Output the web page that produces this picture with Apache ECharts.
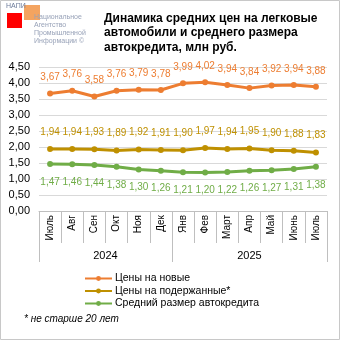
<!DOCTYPE html>
<html><head><meta charset="utf-8">
<script src="https://cdn.jsdelivr.net/npm/echarts@6/dist/echarts.min.js"></script>
<style>html,body{margin:0;padding:0;background:#fff}#c{width:340px;height:340px}</style>
</head><body><div id="c"></div>
<script>
var months = ['Июль','Авг','Сен','Окт','Ноя','Дек','Янв','Фев','Март','Апр','Май','Июнь','Июль'];
var years = ['2024','2025'];
var yearSpans = [6, 7];
var newCars = [3.67,3.76,3.58,3.76,3.79,3.78,3.99,4.02,3.94,3.84,3.92,3.94,3.88];
var usedCars = [1.94,1.94,1.93,1.89,1.92,1.91,1.90,1.97,1.94,1.95,1.90,1.88,1.83];
var credit = [1.47,1.46,1.44,1.38,1.30,1.26,1.21,1.20,1.22,1.26,1.27,1.31,1.38];
var seriesNames = ['Цены на новые','Цены на подержанные*','Средний размер автокредита'];
var titleText = 'Динамика средних цен на легковые\nавтомобили и среднего размера\nавтокредита, млн руб.';
var footnote = '* не старше 20 лет';

var yearBounds = [0]; yearSpans.forEach(function(s,i){yearBounds.push(yearBounds[i]+s);});
var yearCenters = yearSpans.map(function(s,i){return yearBounds[i]+s/2;});
function fmt(v){return v.toFixed(2).replace('.',',');}
var FONT = 'Liberation Sans, Arial, sans-serif';
var gray = '#bfbfbf';
function mk(name, data, color, pos, dist){
  return {name:name, type:'line', data:data, xAxisIndex:0,
    lineStyle:{color:color, width:3}, itemStyle:{color:color},
    symbol:'circle', symbolSize:6, showSymbol:true,
    label:{show:true, position:pos, distance:dist, color:color, fontSize:10, fontFamily:FONT,
      formatter:function(p){return fmt(p.value);}}};
}
var chart = echarts.init(document.getElementById('c'), null, {renderer:'canvas'});
chart.setOption({
  animation:false,
  textStyle:{fontFamily:FONT},
  title:[
    {text:titleText, left:104, top:11, padding:0, textStyle:{fontSize:12, fontWeight:'bold', color:'#000', lineHeight:14.5, fontFamily:FONT}},
    {text:footnote, left:24, top:314, padding:0, textStyle:{fontSize:10, fontStyle:'italic', fontWeight:'normal', color:'#000', fontFamily:FONT}}
  ],
  grid:{left:39, right:13, top:67, bottom:129, containLabel:false},
  legend:{orient:'vertical', left:84, top:273, padding:0, itemWidth:27, itemHeight:6, itemGap:1.5,
    textStyle:{fontSize:10.5, color:'#000', fontFamily:FONT, padding:[0,0,0,-2]}, data:seriesNames},
  xAxis:[
    {type:'category', data:months, boundaryGap:true,
      axisLine:{show:true, lineStyle:{color:gray}},
      axisTick:{show:true, interval:0, length:32, lineStyle:{color:gray}},
      axisLabel:{interval:0, rotate:90, margin:4, fontSize:10, color:'#000', fontFamily:FONT}},
    {type:'value', min:0, max:13, position:'bottom', offset:32,
      axisLine:{show:false}, splitLine:{show:false},
      axisTick:{show:true, customValues:yearBounds, length:19, lineStyle:{color:gray}},
      axisLabel:{customValues:yearCenters, margin:7, fontSize:11, color:'#000', fontFamily:FONT,
        formatter:function(v){var i=yearCenters.indexOf(v); return i>=0?years[i]:'';}}}
  ],
  yAxis:{type:'value', min:0, max:4.5, interval:0.5,
    axisLine:{show:false}, axisTick:{show:false},
    splitLine:{lineStyle:{color:'#d9d9d9'}},
    axisLabel:{fontSize:11, color:'#000', margin:9, fontFamily:FONT, formatter:function(v){return fmt(v);}}},
  series:[
    mk(seriesNames[0], newCars, '#ED7D31', 'top', 8),
    mk(seriesNames[1], usedCars, '#BF9000', 'top', 9),
    mk(seriesNames[2], credit, '#70AD47', 'bottom', 10)
  ],
  graphic:[
    {type:'rect', shape:{x:0.5,y:0.5,width:339,height:339}, style:{fill:'none', stroke:'#c8c8c8', lineWidth:1}, silent:true},
    {type:'rect', shape:{x:24,y:5,width:16,height:15}, style:{fill:'#F4A460'}},
    {type:'rect', shape:{x:7,y:13,width:15,height:15}, style:{fill:'#FF0000'}},
    {type:'text', left:6, top:3, style:{text:'НАПИ', fontSize:7, fill:'#6b7a99', fontFamily:FONT}},
    {type:'text', left:34, top:13, style:{text:'Национальное\nАгентство\nПромышленной\nИнформации ©', fontSize:7, lineHeight:8, fill:'#98a2b8', fontFamily:FONT}}
  ]
});
</script></body></html>
